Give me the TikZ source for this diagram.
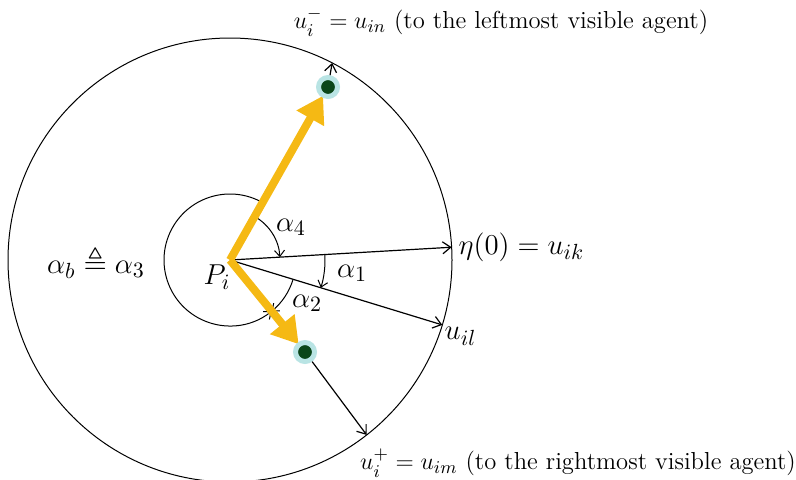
\documentclass[tikz,border=0pt]{standalone}
\usepackage{amssymb}
\usepackage{tikz}
\usetikzlibrary{arrows.meta,calc}
\definecolor{arrowgold}{RGB}{245,185,20}
\definecolor{agentring}{RGB}{185,228,228}
\definecolor{agentcore}{RGB}{10,70,25}

\begin{document}
\begin{tikzpicture}[x=0.5pt,y=0.5pt,
		vec/.style={-{Straight Barb[length=4pt,width=6pt]},line width=0.6pt},
		angarc/.style={-{Straight Barb[length=3pt,width=5pt]},line width=0.5pt},
		heading/.style={line width=4pt,arrowgold,-{Triangle[length=13pt,width=15pt]},shorten >=5pt},
		agent/.style={circle,fill=agentcore,draw=agentring,line width=2.5pt,minimum size=9.5pt,inner sep=0pt},
		lab/.style={font=\fontsize{15}{18}\selectfont},
		note/.style={font=\fontsize{12.3}{15}\selectfont}]
			\useasboundingbox (0,0) rectangle (796,479);
			\pgfmathsetmacro{\R}{222}
			\pgfmathsetmacro{\rsmall}{66}
			\coordinate (Pi) at (230,219);
			\coordinate (uk) at ($(Pi)+(3.3:\R)$);
			\coordinate (ul) at ($(Pi)+(-17:\R)$);
			\coordinate (uin) at ($(Pi)+(62.6:\R)$);
			\coordinate (uim) at ($(Pi)+(-52:\R)$);
			\coordinate (Ain) at (328,392);
			\coordinate (Aim) at (305,127);
			% sensing range
			\draw[line width=0.5pt] (Pi) circle (\R);
			% angles
			\draw[angarc] ($(Pi)+(60.5:\rsmall)$) arc[start angle=60.5, end angle=309, radius=\rsmall];
			\draw[angarc] ($(Pi)+(-17:\rsmall)$) arc[start angle=-17, end angle=-51, radius=\rsmall];
			\draw[angarc] ($(Pi)+(60.5:50)$) arc[start angle=60.5, end angle=3.3, radius=50];
			\draw[angarc] ($(Pi)+(3.3:95)$) arc[start angle=3.3, end angle=-17, radius=95];
			% directions
			\draw[vec] (Pi) -- (uk);
			\draw[vec] (Pi) -- (ul);
			\draw[heading] (Pi) -- (Ain);
			\draw[heading] (Pi) -- (Aim);
			\node[agent] (agin) at (Ain) {};
			\node[agent] (agim) at (Aim) {};
			\draw[vec] (agin) -- (uin);
			\draw[vec] (agim) -- (uim);
			% labels
			\node[lab,anchor=west] (etalab) at (uk) {$\eta(0) = u_{ik}$};
			\node[lab,anchor=north west,inner sep=1pt] (ullab) at (ul) {$u_{il}$};
			\node[lab] (ablab) at (96,217) {$\alpha_b \triangleq \alpha_3$};
			\node[lab] (Plab) at (217,202) {$P_i$};
			\node[lab] (a4lab) at (291,252) {$\alpha_4$};
			\node[lab] (a1lab) at (352,206) {$\alpha_1$};
			\node[lab] (a2lab) at (307,176) {$\alpha_2$};
			\node[note] (topnote) at (501,457) {$u_i^- = u_{in}$ (to the leftmost visible agent)};
			\node[note] (botnote) at (578,16) {$u_i^+ = u_{im}$ (to the rightmost visible agent)};
		\end{tikzpicture}
\end{document}
